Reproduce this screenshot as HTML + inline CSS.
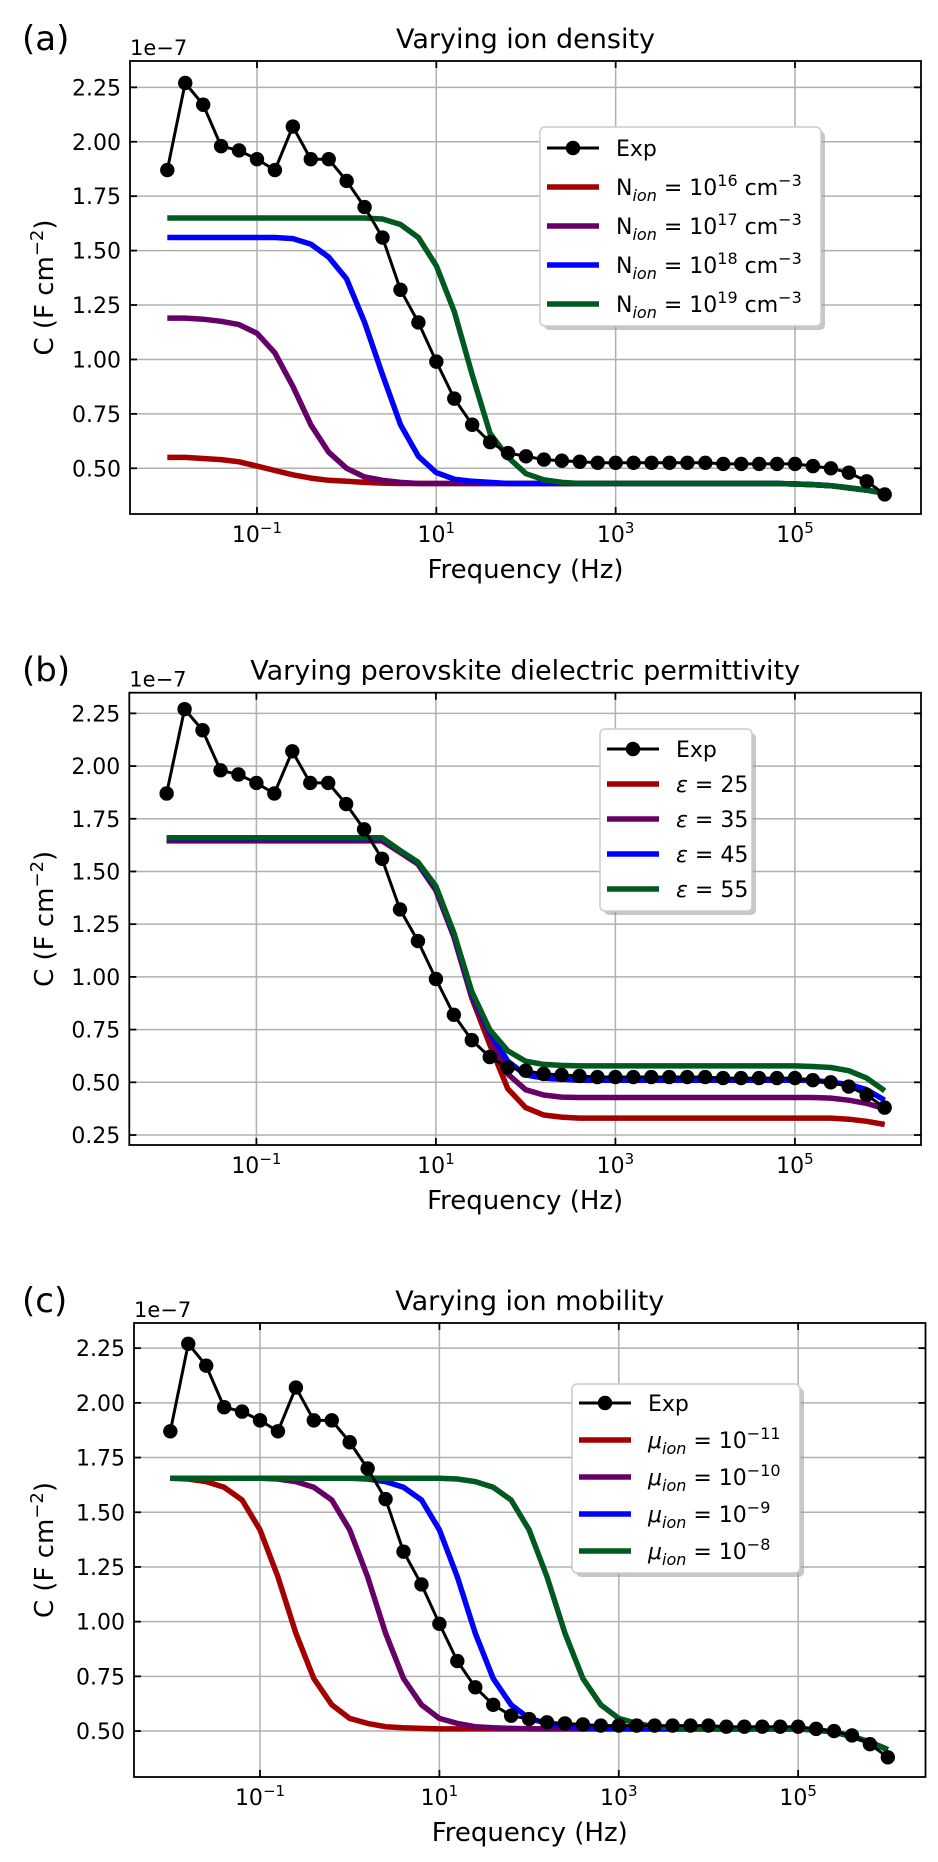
<!DOCTYPE html>
<html><head><meta charset="utf-8">
<style>
html,body{margin:0;padding:0;background:#fff;}
svg{display:block;font-family:"DejaVu Sans","Liberation Sans",sans-serif;}
</style></head>
<body>
<svg id="fig" width="938" height="1862" viewBox="0 0 938 1862" xmlns="http://www.w3.org/2000/svg"></svg>
<script>
// ---------- data ----------
const logFreq = [-2,-1.8,-1.6,-1.4,-1.2,-1,-0.8,-0.6,-0.4,-0.2,0,0.2,0.4,0.6,0.8,1,1.2,1.4,1.6,1.8,2,2.2,2.4,2.6,2.8,3,3.2,3.4,3.6,3.8,4,4.2,4.4,4.6,4.8,5,5.2,5.4,5.6,5.8,6];
const expC = [1.87,2.27,2.17,1.98,1.96,1.92,1.87,2.07,1.92,1.92,1.82,1.70,1.56,1.32,1.17,0.99,0.82,0.70,0.62,0.57,0.555,0.54,0.535,0.53,0.525,0.525,0.525,0.525,0.525,0.525,0.525,0.52,0.52,0.52,0.52,0.52,0.51,0.50,0.48,0.44,0.38];

const aRed = [0.55,0.55,0.545,0.54,0.53,0.51,0.49,0.47,0.455,0.445,0.44,0.435,0.432,0.43,0.43,0.43,0.43,0.43,0.43,0.43,0.43,0.43,0.43,0.43,0.43,0.43,0.43,0.43,0.43,0.43,0.43,0.43,0.43,0.43,0.43,0.428,0.425,0.42,0.41,0.40,0.385];
const aPurple = [1.19,1.19,1.185,1.175,1.16,1.12,1.03,0.877,0.70,0.574,0.50,0.46,0.445,0.435,0.43,0.43,0.43,0.43,0.43,0.43,0.43,0.43,0.43,0.43,0.43,0.43,0.43,0.43,0.43,0.43,0.43,0.43,0.43,0.43,0.43,0.428,0.425,0.42,0.41,0.40,0.385];
const aBlue = [1.56,1.56,1.56,1.56,1.56,1.56,1.56,1.555,1.53,1.47,1.37,1.17,0.93,0.70,0.555,0.48,0.45,0.44,0.435,0.43,0.43,0.43,0.43,0.43,0.43,0.43,0.43,0.43,0.43,0.43,0.43,0.43,0.43,0.43,0.43,0.428,0.425,0.42,0.41,0.40,0.385];
const aGreen = [1.65,1.65,1.65,1.65,1.65,1.65,1.65,1.65,1.65,1.65,1.65,1.65,1.645,1.62,1.56,1.43,1.22,0.93,0.66,0.55,0.475,0.447,0.435,0.43,0.43,0.43,0.43,0.43,0.43,0.43,0.43,0.43,0.43,0.43,0.43,0.428,0.425,0.42,0.41,0.40,0.385];

const bRed = [1.645,1.645,1.645,1.645,1.645,1.645,1.645,1.645,1.645,1.645,1.645,1.645,1.645,1.59,1.535,1.41,1.19,0.90,0.68,0.47,0.38,0.345,0.335,0.33,0.33,0.33,0.33,0.33,0.33,0.33,0.33,0.33,0.33,0.33,0.33,0.33,0.33,0.33,0.325,0.315,0.30];
const bPurple = [1.65,1.65,1.65,1.65,1.65,1.65,1.65,1.65,1.65,1.65,1.65,1.65,1.65,1.595,1.54,1.42,1.20,0.91,0.72,0.54,0.465,0.44,0.43,0.428,0.428,0.428,0.428,0.428,0.428,0.428,0.428,0.428,0.428,0.428,0.428,0.428,0.428,0.425,0.415,0.40,0.375];
const bBlue = [1.655,1.655,1.655,1.655,1.655,1.655,1.655,1.655,1.655,1.655,1.655,1.655,1.655,1.598,1.54,1.42,1.20,0.92,0.74,0.60,0.535,0.52,0.515,0.51,0.51,0.51,0.51,0.51,0.51,0.51,0.51,0.51,0.51,0.51,0.51,0.51,0.51,0.50,0.49,0.465,0.415];
const bGreen = [1.66,1.66,1.66,1.66,1.66,1.66,1.66,1.66,1.66,1.66,1.66,1.66,1.66,1.60,1.545,1.43,1.21,0.93,0.75,0.65,0.60,0.585,0.58,0.578,0.578,0.578,0.578,0.578,0.578,0.578,0.578,0.578,0.578,0.578,0.578,0.578,0.575,0.57,0.555,0.52,0.46];

const cRed = [1.655,1.652,1.64,1.614,1.556,1.42,1.205,0.947,0.74,0.62,0.558,0.535,0.52,0.515,0.512,0.51,0.51,0.51,0.51,0.51,0.51,0.51,0.51,0.51,0.51,0.51,0.51,0.51,0.51,0.51,0.51,0.51,0.51,0.51,0.51,0.51,0.505,0.495,0.475,0.45,0.415];
const cPurple = [1.655,1.655,1.655,1.655,1.655,1.655,1.652,1.64,1.614,1.556,1.42,1.205,0.947,0.74,0.62,0.558,0.535,0.52,0.515,0.512,0.51,0.51,0.51,0.51,0.51,0.51,0.51,0.51,0.51,0.51,0.51,0.51,0.51,0.51,0.51,0.51,0.505,0.495,0.475,0.45,0.415];
const cBlue = [1.655,1.655,1.655,1.655,1.655,1.655,1.655,1.655,1.655,1.655,1.655,1.652,1.64,1.614,1.556,1.42,1.205,0.947,0.74,0.62,0.558,0.535,0.52,0.515,0.512,0.51,0.51,0.51,0.51,0.51,0.51,0.51,0.51,0.51,0.51,0.51,0.505,0.495,0.475,0.45,0.415];
const cGreen = [1.655,1.655,1.655,1.655,1.655,1.655,1.655,1.655,1.655,1.655,1.655,1.655,1.655,1.655,1.655,1.655,1.652,1.64,1.614,1.556,1.42,1.205,0.947,0.74,0.62,0.558,0.535,0.52,0.515,0.512,0.51,0.51,0.51,0.51,0.51,0.51,0.505,0.495,0.475,0.45,0.415];

const xTickExp = [-1,1,3,5];
const yTicksA = [0.50,0.75,1.00,1.25,1.50,1.75,2.00,2.25];
const yTicksB = [0.25,0.50,0.75,1.00,1.25,1.50,1.75,2.00,2.25];
const yTicksC = [0.50,0.75,1.00,1.25,1.50,1.75,2.00,2.25];
const legendA = ['16','17','18','19'];
const legendB = ['25','35','45','55'];
const legendC = ['−11','−10','−9','−8'];

// ---------- drawing ----------
const NS = 'http://www.w3.org/2000/svg';
const svg = document.getElementById('fig');
const COLORS = ['#a50000','#660066','#0000ff','#005a1f'];
function mk(tag, attrs, parent){
  const e = document.createElementNS(NS, tag);
  for (const k in attrs) e.setAttribute(k, attrs[k]);
  (parent||svg).appendChild(e);
  return e;
}
function tsp(parent, txt, attrs){
  const t = document.createElementNS(NS,'tspan');
  for (const k in attrs) t.setAttribute(k, attrs[k]);
  t.textContent = txt; parent.appendChild(t); return t;
}

function panel(p){
  const g = mk('g', {});
  
  
  const xs = v => p.L + (v - p.xmin) / (p.xmax - p.xmin) * (p.R - p.L);
  const ys = v => p.B - (v - p.ymin) / (p.ymax - p.ymin) * (p.B - p.T);
  const cp = mk('clipPath', {id:'clip'+p.id}, g);
  mk('rect', {x:p.L, y:p.T, width:p.R-p.L, height:p.B-p.T}, cp);
  const grid = mk('g', {stroke:'#b0b0b0','stroke-width':1.5}, g);
  
  
  xTickExp.forEach(e => mk('line', {x1:xs(e), x2:xs(e), y1:p.T, y2:p.B}, grid));
  p.yticks.forEach(v => mk('line', {x1:p.L, x2:p.R, y1:ys(v), y2:ys(v)}, grid));
  const plot = mk('g', {'clip-path':'url(#clip'+p.id+')'}, g);
  p.series.forEach((s, k) => {
    const d = s.map((v,i) => (i?'L':'M') + xs(logFreq[i]).toFixed(1) + ' ' + ys(v).toFixed(1)).join(' ');
    const path = mk('path', {d:d, fill:'none', stroke:COLORS[k], 'stroke-width':5.5, 'stroke-linejoin':'round'}, plot);
    
    
  });
  const expD = expC.map((v,i) => (i?'L':'M') + xs(logFreq[i]).toFixed(1) + ' ' + ys(v).toFixed(1)).join(' ');
  const ep = mk('path', {d:expD, fill:'none', stroke:'#000', 'stroke-width':3}, plot);
  
  
  expC.forEach((v,i) => {
    const c = mk('circle', {cx:xs(logFreq[i]), cy:ys(v), r:7.2, fill:'#000'}, plot);
    
    
  });
  const fr = mk('rect', {x:p.L, y:p.T, width:p.R-p.L, height:p.B-p.T, fill:'none', stroke:'#000', 'stroke-width':1.8}, g);
  
  
  const tk = mk('g', {stroke:'#000','stroke-width':1.8}, g);
  xTickExp.forEach(e => {
    mk('line', {x1:xs(e), x2:xs(e), y1:p.B, y2:p.B-7}, tk);
    mk('line', {x1:xs(e), x2:xs(e), y1:p.T, y2:p.T+7}, tk);
    const t = mk('text', {x:xs(e), y:p.B+28, 'text-anchor':'middle', 'font-size':22, fill:'#000'}, g);
    
    
    tsp(t, '10', {});
    tsp(t, (e<0?'−':'') + Math.abs(e), {dy:-9, 'font-size':15});
  });
  p.yticks.forEach(v => {
    mk('line', {x1:p.L, x2:p.L+7, y1:ys(v), y2:ys(v)}, tk);
    mk('line', {x1:p.R, x2:p.R-7, y1:ys(v), y2:ys(v)}, tk);
    const t = mk('text', {x:p.L-9, y:ys(v)+8, 'text-anchor':'end', 'font-size':22, fill:'#000'}, g);
    
    
    t.textContent = v.toFixed(2);
  });
  const cx = (p.L + p.R)/2;
  let t = mk('text', {x:p.L, y:p.T-6, 'font-size':21, fill:'#000'}, g);
  
  
  t.textContent = '1e−7';
  t = mk('text', {x:cx, y:p.T-13, 'text-anchor':'middle', 'font-size':27, fill:'#000'}, g);
  
  
  t.textContent = p.title;
  t = mk('text', {x:22, y:p.T-11, 'font-size':34, fill:'#000'}, g);
  
  
  t.textContent = '(' + p.id + ')';
  t = mk('text', {x:cx, y:p.B+64, 'text-anchor':'middle', 'font-size':26, fill:'#000'}, g);
  
  
  t.textContent = 'Frequency (Hz)';
  const cy = (p.T + p.B)/2;
  t = mk('text', {x:53, y:cy, 'text-anchor':'middle', 'font-size':26, fill:'#000', transform:'rotate(-90 53 '+cy+')'}, g);
  
  
  tsp(t, 'C (F cm', {});
  tsp(t, '−2', {dy:-10, 'font-size':18});
  tsp(t, ')', {dy:10});
  const lg = p.leg;
  const lgG = mk('g', {}, g);
  
  
  const h = lg.row0 - lg.top + 4*lg.dy + 22;
  mk('rect', {x:lg.left+4, y:lg.top+4, width:lg.w, height:h, rx:5, fill:'#999', opacity:0.55}, lgG);
  mk('rect', {x:lg.left, y:lg.top, width:lg.w, height:h, rx:5, fill:'#fff', stroke:'#cccccc', 'stroke-width':1.5}, lgG);
  const lx1 = lg.left+7, lx2 = lg.left+59, tx = lg.left+76;
  mk('line', {x1:lx1, x2:lx2, y1:lg.row0, y2:lg.row0, stroke:'#000','stroke-width':3}, lgG);
  mk('circle', {cx:(lx1+lx2)/2, cy:lg.row0, r:7.2, fill:'#000'}, lgG);
  t = mk('text', {x:tx, y:lg.row0+8, 'font-size':22, fill:'#000'}, lgG);
  
  
  t.textContent = 'Exp';
  p.labels.forEach((lab, k) => {
    const yy = lg.row0 + (k+1)*lg.dy;
    mk('line', {x1:lx1, x2:lx2, y1:yy, y2:yy, stroke:COLORS[k], 'stroke-width':5.5}, lgG);
    const tt = mk('text', {x:tx, y:yy+8, 'font-size':22, fill:'#000'}, lgG);
    
    
    if (p.id === 'a') {
      tsp(tt, 'N', {}); tsp(tt, 'ion', {dy:6, 'font-size':16, 'font-style':'italic'});
      tsp(tt, ' = 10', {dy:-6}); tsp(tt, lab, {dy:-9, 'font-size':16});
      tsp(tt, ' cm', {dy:9}); tsp(tt, '−3', {dy:-9, 'font-size':16});
    } else if (p.id === 'b') {
      tsp(tt, 'ε', {'font-style':'italic'}); tsp(tt, ' = ' + lab, {});
    } else {
      tsp(tt, 'μ', {'font-style':'italic'}); tsp(tt, 'ion', {dy:6, 'font-size':16, 'font-style':'italic'});
      tsp(tt, ' = 10', {dy:-6}); tsp(tt, lab, {dy:-9, 'font-size':16});
    }
  });
}

panel({id:'a', title:'Varying ion density', L:130, R:921, T:61, B:514, xmin:-2.416, xmax:6.405, ymin:0.29, ymax:2.371,
  yticks:yTicksA, series:[aRed,aPurple,aBlue,aGreen], labels:legendA,
  leg:{left:540, top:127, w:281, row0:148, dy:39}});
panel({id:'b', title:'Varying perovskite dielectric permittivity', L:129.3, R:921, T:692.7, B:1145, xmin:-2.416, xmax:6.405, ymin:0.2026, ymax:2.348,
  yticks:yTicksB, series:[bRed,bPurple,bBlue,bGreen], labels:legendB,
  leg:{left:600, top:729, w:152, row0:749, dy:35}});
panel({id:'c', title:'Varying ion mobility', L:134, R:925.5, T:1323, B:1777, xmin:-2.405, xmax:6.42, ymin:0.29, ymax:2.365,
  yticks:yTicksC, series:[cRed,cPurple,cBlue,cGreen], labels:legendC,
  leg:{left:572, top:1384, w:228, row0:1403, dy:37}});
</script>
</body></html>
